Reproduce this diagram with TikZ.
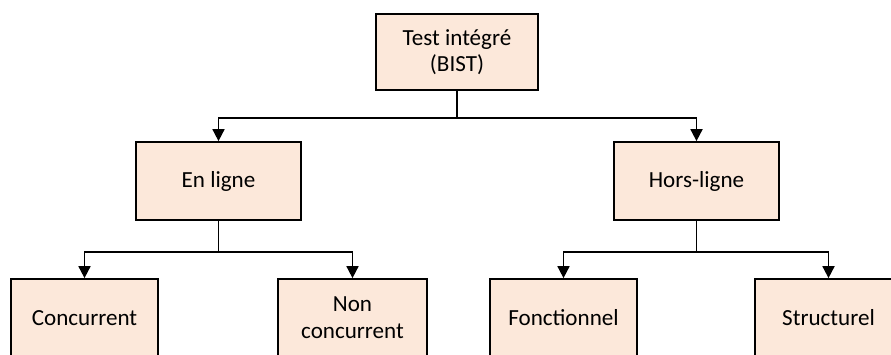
\documentclass[tikz,border=0pt]{standalone}
\usepackage{fontspec}
\setmainfont{Carlito}
\usetikzlibrary{calc}
\usetikzlibrary{arrows.meta}
\definecolor{boxfill}{HTML}{FCE8DA}
\tikzset{
	bloc/.style={draw=black, fill=boxfill, line width=1.3pt, align=center, inner sep=0pt,
		minimum width=110.25pt, minimum height=58.5pt, font=\fontsize{17.3}{20}\selectfont},
	fleche/.style={line width=1.3pt, -{Triangle[width=9pt,length=9pt]}},
}
\begin{document}
\begin{tikzpicture}[x=0.75pt,y=-0.75pt]
		\useasboundingbox (0,0) rectangle (891,354);
		% racine
		\node[bloc, minimum width=121.5pt, minimum height=57pt] (bist) at (457,52) {Test intégré\\(BIST)};
		% deuxieme niveau
		\node[bloc, minimum width=123.75pt] (enligne) at (218.5,181) {En ligne};
		\node[bloc, minimum width=123.75pt] (horsligne) at (696.5,181) {Hors-ligne};
		% feuilles
		\node[bloc] (conc) at (84.5,318) {Concurrent};
		\node[bloc, minimum width=111.75pt] (nonconc) at (352.5,318) {Non\\concurrent};
		\node[bloc] (fonct) at (563.5,318) {Fonctionnel};
		\node[bloc] (struct) at (828.5,318) {Structurel};
		% connecteurs
		\coordinate (s0) at ($ (bist.south) + (0,27) $);
		\coordinate (s1) at ($ (enligne.south) + (0,31) $);
		\coordinate (s2) at ($ (horsligne.south) + (0,31) $);
		\draw[fleche] (bist.south) -- (s0) -| (enligne.north);
		\draw[fleche] (s0) -| (horsligne.north);
		\draw[fleche] (enligne.south) -- (s1) -| (conc.north);
		\draw[fleche] (s1) -| (nonconc.north);
		\draw[fleche] (horsligne.south) -- (s2) -| (fonct.north);
		\draw[fleche] (s2) -| (struct.north);
	\end{tikzpicture}
\end{document}
